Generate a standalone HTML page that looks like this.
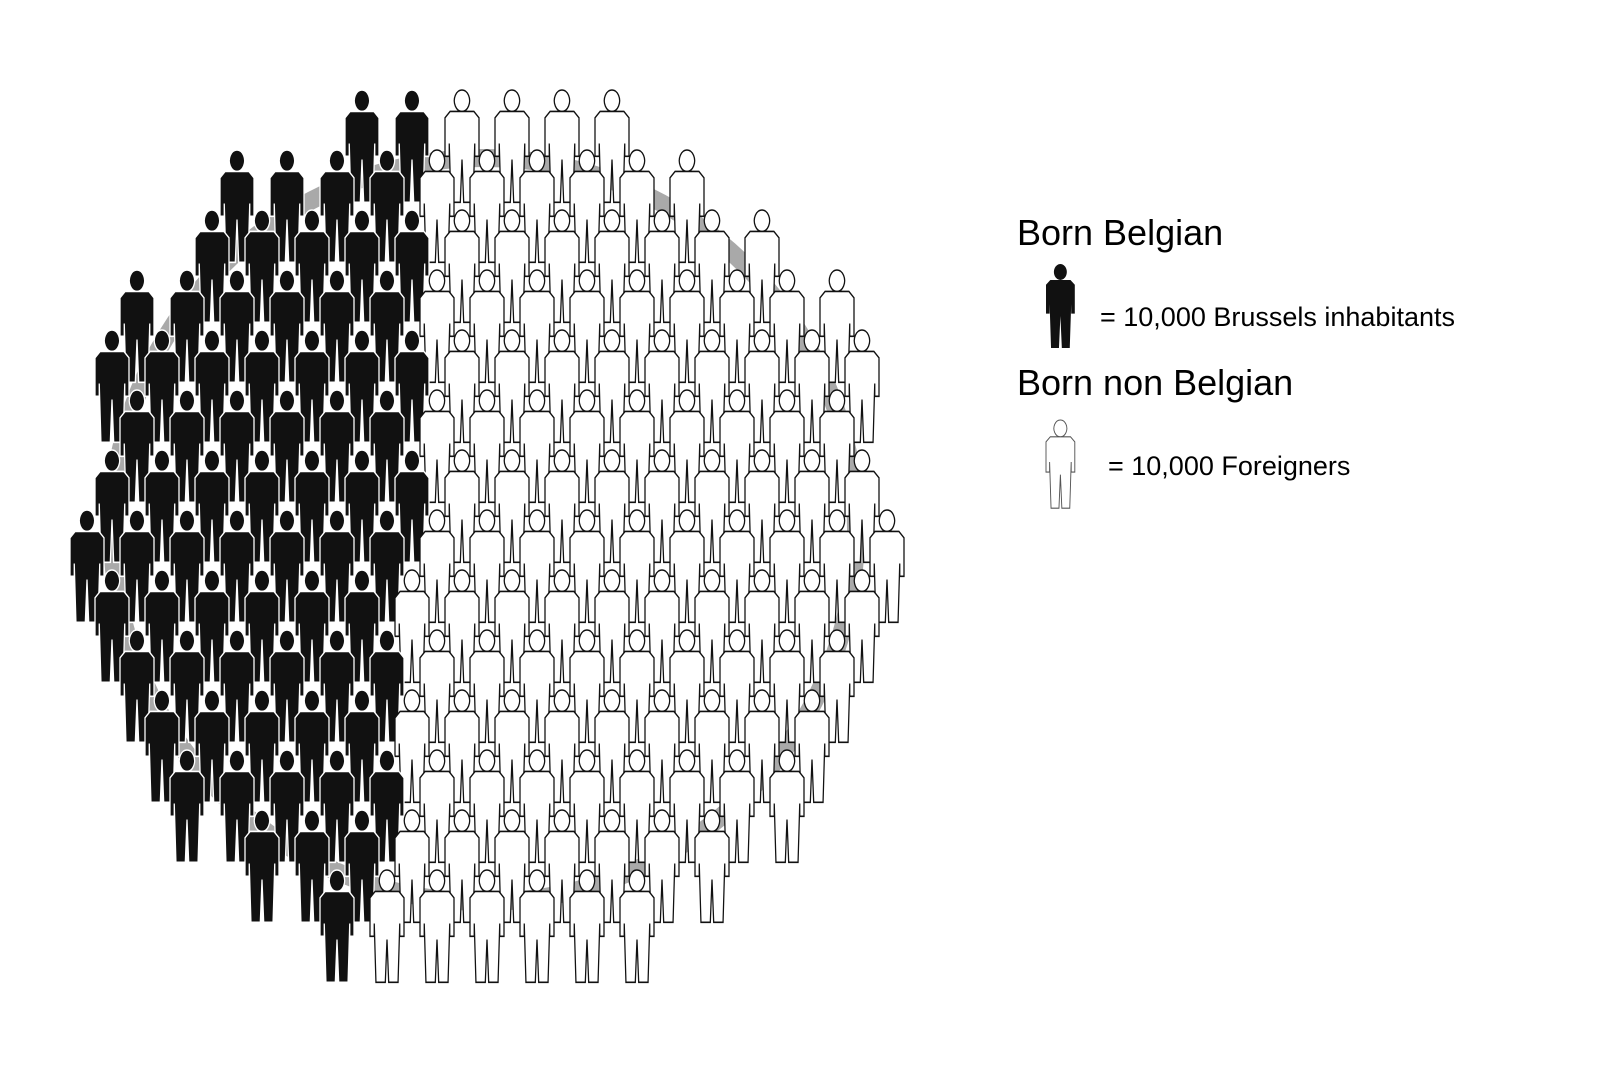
<!DOCTYPE html>
<html><head><meta charset="utf-8">
<style>
html,body{margin:0;padding:0;background:#fff;}
body{width:1600px;height:1080px;position:relative;overflow:hidden;font-family:"Liberation Sans","DejaVu Sans",sans-serif;}
.t{position:absolute;color:#000;white-space:nowrap;}
</style></head>
<body>
<svg id="chart" width="1600" height="1080" style="position:absolute;left:0;top:0">
  <circle cx="484" cy="530" r="372" fill="none" stroke="#a9a9a9" stroke-width="18"/>
  <g id="people"></g>
  <g transform="translate(1046,264) scale(0.72,0.8)">
    <path d="M20 0 a9 10 0 1 1 -0.1 0 Z M6 20 L34 20 L40 26 L40 62 L35 62 L35 50 L33 105 L22 105 L20 65 L18 105 L7 105 L5 50 L5 62 L0 62 L0 26 Z" fill="#111"/>
  </g>
  <g transform="translate(1046,420) scale(0.72,0.84)">
    <path d="M20 0 a9 10 0 1 1 -0.1 0 Z M6 20 L34 20 L40 26 L40 62 L35 62 L35 50 L33 105 L22 105 L20 65 L18 105 L7 105 L5 50 L5 62 L0 62 L0 26 Z" fill="#fff" stroke="#555" stroke-width="1.3"/>
  </g>
</svg>
<div class="t" style="left:1017px;top:212px;font-size:36px;">Born Belgian</div>
<div class="t" style="left:1100px;top:302px;font-size:27px;">= 10,000 Brussels inhabitants</div>
<div class="t" style="left:1017px;top:362px;font-size:36px;">Born non Belgian</div>
<div class="t" style="left:1108px;top:451px;font-size:27px;">= 10,000 Foreigners</div>
<script>
// data: each figure = 10,000 people
const groups = ["Born Belgian", "Born non Belgian"];
const counts = [70, 112];
const unitSize = [10000];

const PATH = "M20 0 a9 10 0 1 1 -0.1 0 Z M6 20 L34 20 L40 26 L40 62 L35 62 L35 50 L33 105 L22 105 L20 65 L18 105 L7 105 L5 50 L5 62 L0 62 L0 26 Z";
const cx = 485, cy = 540;
const total = counts[0] + counts[1];
let slots = [];
for (let r = 0; r < 18; r++) {
  for (let c = 0; c < 19; c++) {
    const x = 20 + c * 50 + (r % 2 ? 25 : 0);
    const y = 30 + r * 60;
    const fx = x + 17, fy = y + 56;
    const d = Math.hypot((fx - cx), (fy - cy) * 0.96);
    slots.push({x, y, d});
  }
}
slots.sort((a, b) => a.d - b.d);
slots = slots.slice(0, total);
const byX = slots.slice().sort((a, b) => (a.x + (a.y - cy) * 0.06) - (b.x + (b.y - cy) * 0.06));
byX.forEach((s, i) => s.g = i < counts[0] ? 0 : 1);
slots.sort((a, b) => a.y - b.y);
const g = document.getElementById('people');
const ns = "http://www.w3.org/2000/svg";
slots.forEach((s, i) => {
  const p = document.createElementNS(ns, 'path');
  p.setAttribute('d', PATH);
  p.setAttribute('transform', `translate(${s.x},${s.y}) scale(0.85,1.07)`);
  if (s.g === 0) { p.setAttribute('fill', '#111'); p.setAttribute('stroke', '#fff'); p.setAttribute('stroke-width', '1.5'); }
  else { p.setAttribute('fill', '#fff'); p.setAttribute('stroke', '#111'); p.setAttribute('stroke-width', '1.5'); }
  
  
  g.appendChild(p);
});
</script>
</body></html>
